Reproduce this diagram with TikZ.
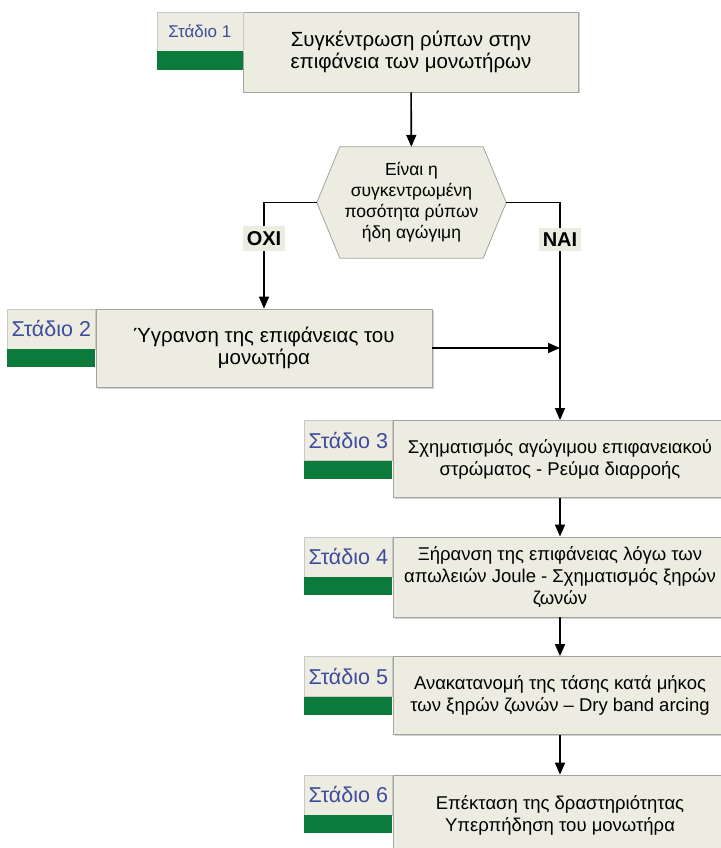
\documentclass[tikz,border=0pt]{standalone}
\usepackage{fontspec}
\setmainfont{Liberation Sans}
\usetikzlibrary{arrows.meta}
\usetikzlibrary{positioning}
\usetikzlibrary{backgrounds}
\usetikzlibrary{shadows}

\definecolor{boxfill}{HTML}{ECECE0}
\definecolor{boxline}{HTML}{A3A3A3}
\definecolor{stagegreen}{HTML}{0B7A3B}
\definecolor{stageblue}{HTML}{3F4C9E}

\begin{document}
\begin{tikzpicture}[x=1pt,y=-1pt,
        arrow/.style={-{Triangle[length=12pt,width=10pt]},line width=1.6pt},
        stage/.style={draw=boxline,fill=boxfill,line width=0.8pt,
            minimum height=78pt,align=center,
            font=\fontsize{18.5}{22}\selectfont,
            drop shadow={shadow xshift=1.5pt,shadow yshift=-1.5pt,opacity=0.35}},
        stage big/.style={font=\fontsize{20.5}{22}\selectfont},
        tag/.style={draw=boxline!60,fill=boxfill,line width=0.6pt,inner sep=1pt,
            minimum width=88pt,minimum height=40pt,anchor=north east,
            text=stageblue,font=\fontsize{21.5}{22}\selectfont},
        bar/.style={fill=stagegreen,minimum width=88pt,minimum height=18pt,
            anchor=north,inner sep=0pt},
        answer/.style={fill=boxfill,inner xsep=4pt,inner ysep=5pt,
            font=\bfseries\fontsize{20}{22}\selectfont},
    ]
        \useasboundingbox (0,0) rectangle (720,848);

        % stage 1
        \node[stage,stage big,minimum width=335pt,minimum height=80pt] (s1) at (411,52)
            {Συγκέντρωση ρύπων στην\\επιφάνεια των μονωτήρων};
        \node[tag,minimum width=86pt,minimum height=39pt,
            font=\fontsize{17}{20}\selectfont] (t1) at (s1.north west) {Στάδιο 1};
        \node[bar,minimum width=86pt,minimum height=19pt] at (t1.south) {};

        % question
        \node[align=center,minimum width=189pt,minimum height=111pt,
            font=\fontsize{17.5}{21}\selectfont] (ask) at (411.5,202.5)
            {Είναι η\\συγκεντρωμένη\\ποσότητα ρύπων\\ήδη αγώγιμη};
        \begin{scope}[on background layer]
            \draw[draw=boxline,fill=boxfill,line width=0.8pt]
                (ask.west) -- ([xshift=23pt]ask.north west)
                -- ([xshift=-23pt]ask.north east) -- (ask.east)
                -- ([xshift=-23pt]ask.south east)
                -- ([xshift=23pt]ask.south west) -- cycle;
        \end{scope}

        % stage 2
        \node[stage,stage big,minimum width=336pt] (s2) at (264,348)
            {Ύγρανση της επιφάνειας του\\μονωτήρα};
        \node[tag] (t2) at (s2.north west) {Στάδιο 2};
        \node[bar] at (t2.south) {};

        % stages 3 to 6
        \node[stage,minimum width=334pt,minimum height=77pt] (s3) at (560,459)
            {Σχηματισμός αγώγιμου επιφανειακού\\στρώματος - Ρεύμα διαρροής};
        \node[tag] (t3) at (s3.north west) {Στάδιο 3};
        \node[bar] at (t3.south) {};

        \node[stage,minimum width=334pt,minimum height=80pt] (s4) at (560,577)
            {Ξήρανση της επιφάνειας λόγω των\\απωλειών Joule - Σχηματισμός ξηρών\\ζωνών};
        \node[tag] (t4) at (s4.north west) {Στάδιο 4};
        \node[bar] at (t4.south) {};

        \node[stage,minimum width=334pt] (s5) at (560,695.5)
            {Ανακατανομή της τάσης κατά μήκος\\των ξηρών ζωνών – Dry band arcing};
        \node[tag] (t5) at (s5.north west) {Στάδιο 5};
        \node[bar] at (t5.south) {};

        \node[stage,minimum width=334pt,minimum height=80pt] (s6) at (560,815)
            {Επέκταση της δραστηριότητας\\Υπερπήδηση του μονωτήρα};
        \node[tag] (t6) at (s6.north west) {Στάδιο 6};
        \node[bar] at (t6.south) {};

        % arrows
        \draw[arrow] (s1) -- (ask);
        \draw[arrow] (ask.west) -| (s2.north) node[answer,pos=0.67] {ΟΧΙ};
        \draw[arrow] (ask.east) -| (s3.north) node[answer,pos=0.585] {ΝΑΙ};

        \coordinate (merge) at (s3.north |- s2.east);
        \draw[arrow] (s2.east) -- (merge);

        \draw[arrow] (s3) -- (s4);
        \draw[arrow] (s4) -- (s5);
        \draw[arrow] (s5) -- (s6);
    \end{tikzpicture}
\end{document}
